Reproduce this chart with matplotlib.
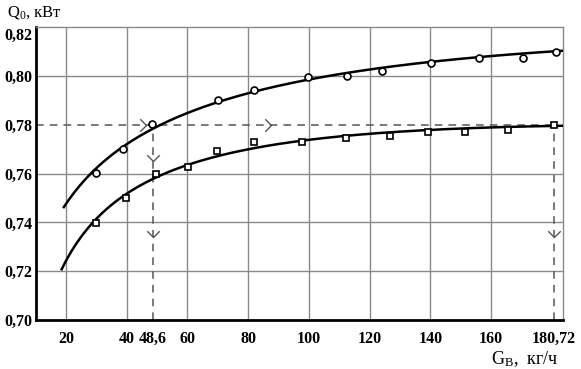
import matplotlib
matplotlib.use("Agg")
import matplotlib.pyplot as plt
from matplotlib.path import Path
import numpy as np

plt.rcParams['font.family'] = ['Liberation Serif', 'DejaVu Serif']
plt.rcParams['mathtext.fontset'] = 'custom'
plt.rcParams['mathtext.rm'] = 'Liberation Serif'
plt.rcParams['mathtext.it'] = 'Liberation Serif'

# upper curve (circles)
g_up = [29.9, 38.9, 48.4, 70.0, 82.0, 99.7, 112.6, 124.0, 140.2, 156.1, 170.4, 181.4]
q_up = [0.7603, 0.7700, 0.7803, 0.7903, 0.7944, 0.7997, 0.8001, 0.8022, 0.8053, 0.8074, 0.8076, 0.8101]
# ends of the drawn trend line
g_up_ends = [19.3, 183.7]
q_up_ends = [0.7464, 0.8108]

# lower curve (squares)
g_low = [29.9, 39.7, 49.5, 60.1, 69.8, 81.9, 97.6, 112.2, 126.7, 139.2, 151.4, 165.6, 180.7]
q_low = [0.7398, 0.7500, 0.7599, 0.7628, 0.7695, 0.7729, 0.7731, 0.7748, 0.7755, 0.7771, 0.7771, 0.7780, 0.7800]
g_low_ends = [18.6, 183.7]
q_low_ends = [0.7209, 0.7800]

xticks = [20, 40, 48.6, 60, 80, 100, 120, 140, 160, 180.72]
xticklabels = ['20', '40', '48,6', '60', '80', '100', '120', '140', '160', '180,72']
yticks = [0.70, 0.72, 0.74, 0.76, 0.78, 0.80, 0.82]
yticklabels = ['0,70', '0,72', '0,74', '0,76', '0,78', '0,80', '0,82']

q_work = 0.78
g_work = [48.6, 180.72]

fig = plt.figure(figsize=(5.81, 3.69), dpi=100)
ax = fig.add_axes([0.0628, 0.1328, 0.9062, 0.7927])
ax.set_xlim(10.3, 183.7)
ax.set_ylim(0.70, 0.82)

# grid
for gx in [20, 40, 60, 80, 100, 120, 140, 160]:
    ax.axvline(gx, color='#8a8a8a', lw=1.0, zorder=1)
for gy in [0.72, 0.74, 0.76, 0.80]:
    ax.axhline(gy, color='#8a8a8a', lw=1.0, zorder=1)

# dashed construction lines
dash_kw = dict(color='#555555', lw=1.1, ls=(0, (5, 4)), zorder=2)
ax.plot([10.3, g_work[1]], [q_work, q_work], **dash_kw)
for gx in g_work:
    ax.plot([gx, gx], [0.70, q_work], **dash_kw)

# chevrons
chev_r = Path([(-1, 1), (0, 0), (-1, -1)], [Path.MOVETO, Path.LINETO, Path.LINETO])
chev_d = Path([(-1, 1), (0, 0), (1, 1)], [Path.MOVETO, Path.LINETO, Path.LINETO])
ax.plot([46.5, 87.7], [q_work, q_work], ls='none', marker=chev_r, ms=9,
        mfc='none', mec='#555555', mew=1.0, zorder=3)
ax.plot([48.6, 48.6, 180.72], [0.7652, 0.734, 0.734], ls='none', marker=chev_d, ms=9,
        mfc='none', mec='#555555', mew=1.0, zorder=3)


def trend(g, q, g_ends, q_ends):
    gx = np.log(np.r_[g, g_ends])
    qy = np.r_[q, q_ends]
    w = np.r_[np.ones(len(g)), np.full(len(g_ends), 3.0)]
    c = np.polyfit(gx, qy, 3, w=w)
    xs = np.linspace(g_ends[0], g_ends[1], 200)
    return xs, np.polyval(c, np.log(xs))


xs, ys = trend(g_up, q_up, g_up_ends, q_up_ends)
ax.plot(xs, ys, color='black', lw=1.8, zorder=4)
xs, ys = trend(g_low, q_low, g_low_ends, q_low_ends)
ax.plot(xs, ys, color='black', lw=1.8, zorder=4)

ax.plot(g_up, q_up, ls='none', marker='o', ms=5, mfc='white', mec='black', mew=1.2, zorder=5)
ax.plot(g_low, q_low, ls='none', marker='s', ms=5, mfc='white', mec='black', mew=1.2, zorder=5)

ax.set_xticks(xticks)
ax.set_xticklabels(xticklabels, fontsize=11.5, fontweight='bold')
ax.set_yticks(yticks)
ax.set_yticklabels(yticklabels, fontsize=11.5, fontweight='bold')
ax.tick_params(length=0)
ax.tick_params(axis='x', pad=8)
ax.tick_params(axis='y', pad=3)
ax.get_yticklabels()[-1].set_va('top')

for s in ['left', 'bottom']:
    ax.spines[s].set_linewidth(2.0)
    ax.spines[s].set_color('black')
for s in ['top', 'right']:
    ax.spines[s].set_linewidth(1.0)
    ax.spines[s].set_color('#8a8a8a')

fig.text(0.012, 0.99, r'Q$_\mathrm{0}$, кВт', fontsize=12, ha='left', va='top')
fig.text(0.845, 0.0, r'G$_\mathrm{В}$,  кг/ч', fontsize=13, ha='left', va='bottom')

fig.savefig('out.png', dpi=100)
